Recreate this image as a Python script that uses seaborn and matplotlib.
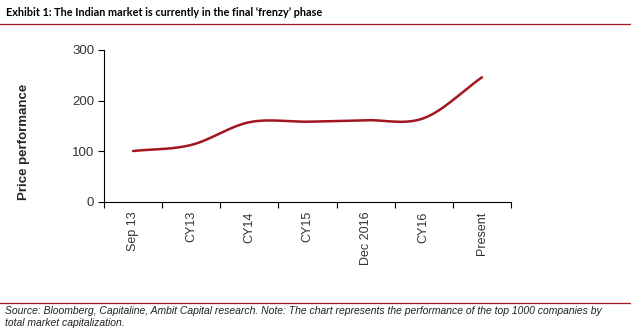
import numpy as np
import pandas as pd
import matplotlib
matplotlib.use("Agg")
import matplotlib.pyplot as plt
import seaborn as sns
from matplotlib.lines import Line2D

categories = ["Sep 13", "CY13", "CY14", "CY15", "Dec 2016", "CY16", "Present"]
values = [100, 112, 157, 158, 161, 165, 246]

sns.set_theme(style="white")
plt.rcParams['font.family'] = ['Liberation Sans', 'DejaVu Sans']

# smooth curve (Catmull-Rom) through the data points, like Excel's smoothed line
def catmull_rom(y, n=40):
    x = np.arange(len(y), dtype=float)
    y = np.asarray(y, dtype=float)
    px = np.concatenate([[2*x[0]-x[1]], x, [2*x[-1]-x[-2]]])
    py = np.concatenate([[2*y[0]-y[1]], y, [2*y[-1]-y[-2]]])
    xs, ys = [], []
    for i in range(1, len(px)-2):
        t = np.linspace(0, 1, n, endpoint=(i == len(px)-3))
        for P, out in ((px, xs), (py, ys)):
            p0, p1, p2, p3 = P[i-1], P[i], P[i+1], P[i+2]
            out.append(0.5*((2*p1) + (-p0+p2)*t + (2*p0-5*p1+4*p2-p3)*t**2 + (-p0+3*p1-3*p2+p3)*t**3))
    return np.concatenate(xs), np.concatenate(ys)

sx, sy = catmull_rom(values)
df = pd.DataFrame({"x": sx, "y": sy})

fig = plt.figure(figsize=(6.31, 3.32), dpi=100)
ax = fig.add_axes([104/631, (332-201.5)/332, (511-104)/631, (201.5-50)/332])
sns.lineplot(data=df, x="x", y="y", ax=ax, color="#A3161F", linewidth=1.8, sort=False)

ax.set_xlim(-0.5, len(categories)-0.5)
ax.set_ylim(0, 300)
ax.set_yticks([0, 100, 200, 300])
ax.set_xticks(range(len(categories)))
ax.set_xticklabels(categories, rotation=90, fontsize=9, color="#333333")
ax.set_xticks(np.arange(-0.5, len(categories), 1.0), minor=True)
ax.tick_params(axis="x", which="major", length=0, pad=7)
ax.tick_params(axis="x", which="minor", length=4, width=0.8, color="black", direction="out", bottom=True)
ax.tick_params(axis="y", length=4, width=0.8, color="black", direction="out", left=True, labelsize=9.5, labelcolor="#333333", pad=3)
ax.set_xlabel("")
ax.set_ylabel("Price performance", fontsize=9.5, fontweight="bold", va="center")
ax.yaxis.set_label_coords(-80/407, (201.5-142)/151.5)
for s in ["top", "right"]:
    ax.spines[s].set_visible(False)
for s in ["left", "bottom"]:
    ax.spines[s].set_color("black")
    ax.spines[s].set_linewidth(0.8)
ax.grid(False)

fig.text(6/631, 1-13/332, "Exhibit 1: The Indian market is currently in the final \u2018frenzy\u2019 phase",
         fontsize=7.8, fontweight="bold", family=["Lato", "DejaVu Sans"], va="center", ha="left", color="black")
fig.add_artist(Line2D([0, 1], [1-23.5/332, 1-23.5/332], color="#A3161F", linewidth=0.9))
fig.add_artist(Line2D([0, 1], [1-303/332, 1-303/332], color="#A3161F", linewidth=0.9))
fig.text(5/631, 1-311/332, "Source: Bloomberg, Capitaline, Ambit Capital research. Note: The chart represents the performance of the top 1000 companies by",
         fontsize=7.45, style="italic", va="center", ha="left", color="#222222")
fig.text(5/631, 1-323/332, "total market capitalization.",
         fontsize=7.45, style="italic", va="center", ha="left", color="#222222")

fig.savefig("out.png", dpi=100)
